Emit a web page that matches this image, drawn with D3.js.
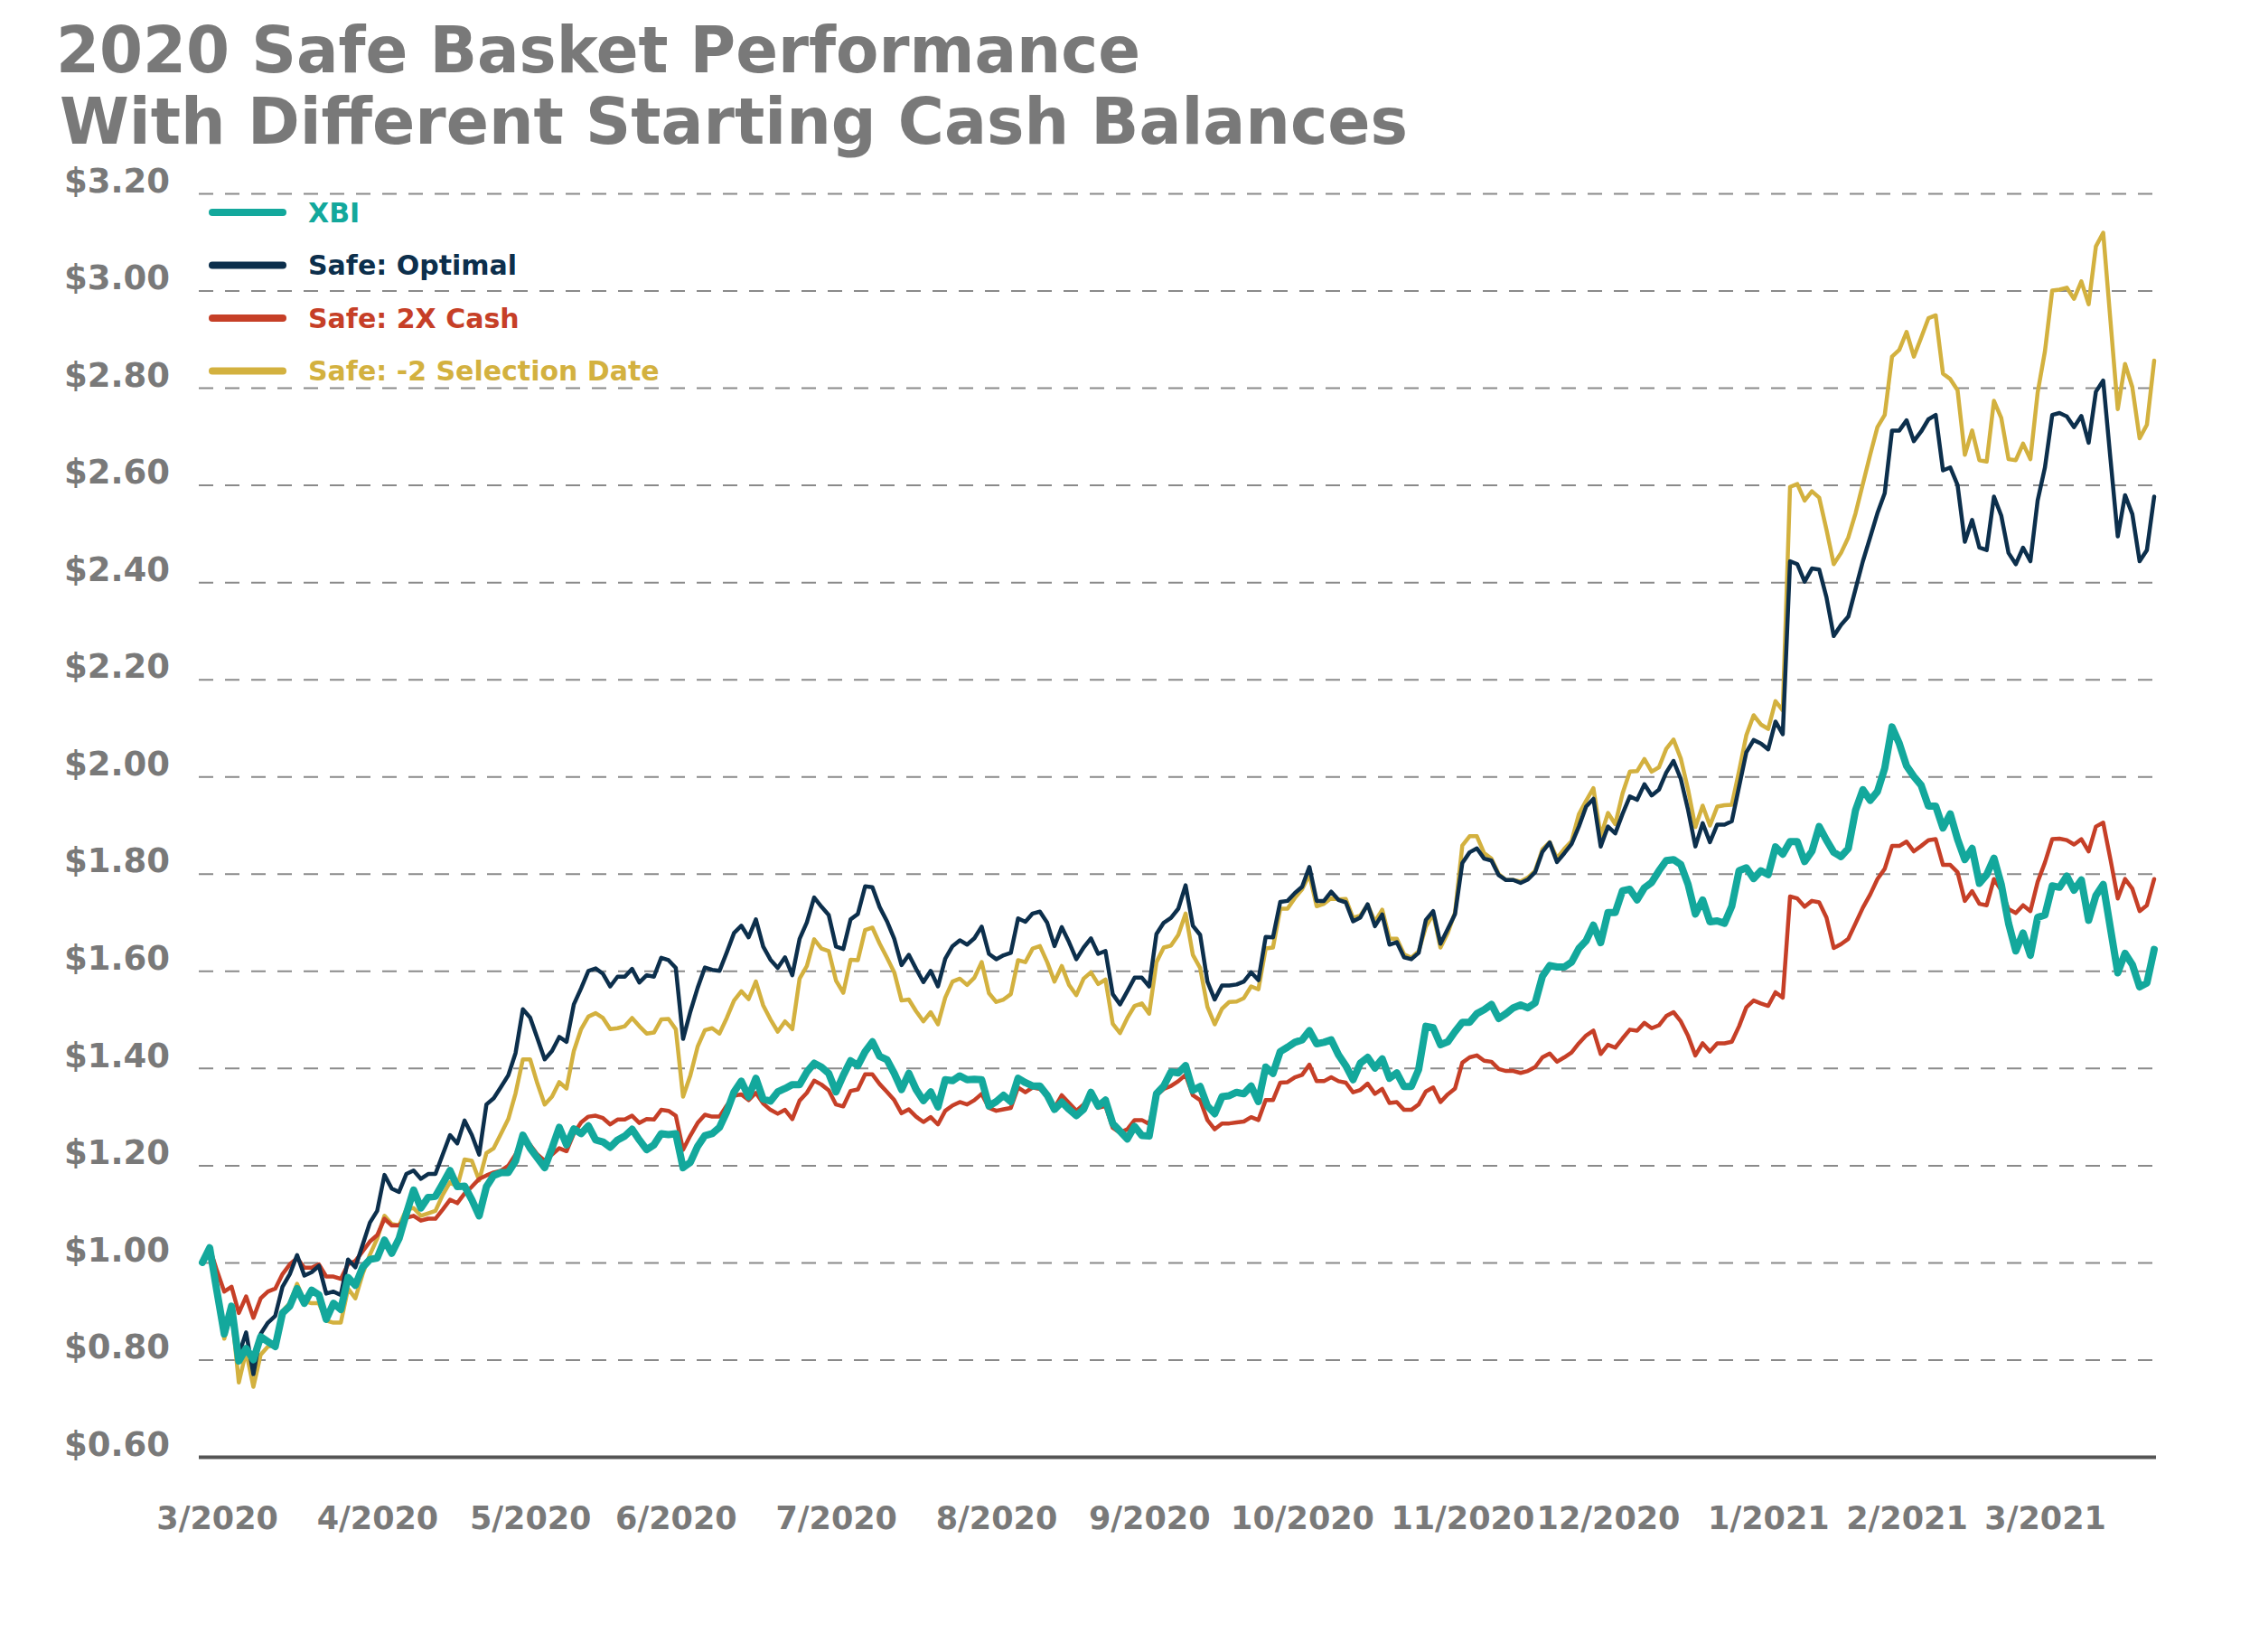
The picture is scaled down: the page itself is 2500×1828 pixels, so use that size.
<!DOCTYPE html>
<html>
<head>
<meta charset="utf-8">
<script src="https://cdn.jsdelivr.net/npm/d3@7"></script>
<style>
  body { margin: 0; background: #fff; }
  text { font-family: "DejaVu Sans", sans-serif; font-weight: bold; }
</style>
</head>
<body>
<div id="chart-area"></div>
<script>
// month labels and the trading-day index where each month starts
const monthLabels = ["3/2020", "4/2020", "5/2020", "6/2020", "7/2020", "8/2020", "9/2020",
    "10/2020", "11/2020", "12/2020", "1/2021", "2/2021", "3/2021"];
const monthStarts = [2, 24, 45, 65, 87, 109, 130, 151, 173, 193, 215, 234, 253];

const yTicks = [0.6, 0.8, 1.0, 1.2, 1.4, 1.6, 1.8, 2.0, 2.2, 2.4, 2.6, 2.8, 3.0, 3.2];

const seriesNames = ["XBI", "Safe: Optimal", "Safe: 2X Cash", "Safe: -2 Selection Date"];

// one value per trading day
const xbi = [
    1.00, 1.03, 0.94, 0.853, 0.91, 0.797, 0.823, 0.80, 0.847, 0.837,
    0.827, 0.896, 0.91, 0.946, 0.916, 0.943, 0.933, 0.883, 0.916, 0.903,
    0.969, 0.953, 0.99, 1.006, 1.009, 1.046, 1.019, 1.049, 1.10, 1.149,
    1.112, 1.134, 1.136, 1.162, 1.189, 1.156, 1.157, 1.129, 1.096, 1.156,
    1.179, 1.185, 1.185, 1.209, 1.262, 1.235, 1.215, 1.195, 1.235, 1.278,
    1.242, 1.275, 1.265, 1.281, 1.252, 1.248, 1.237, 1.252, 1.26, 1.274,
    1.252, 1.232, 1.242, 1.265, 1.263, 1.265, 1.195, 1.206, 1.239, 1.261,
    1.265, 1.278, 1.31, 1.351, 1.373, 1.341, 1.379, 1.336, 1.332, 1.351,
    1.358, 1.366, 1.366, 1.392, 1.41, 1.402, 1.389, 1.351, 1.385, 1.415,
    1.405, 1.434, 1.454, 1.424, 1.417, 1.389, 1.356, 1.389, 1.356, 1.333,
    1.351, 1.32, 1.376, 1.374, 1.384, 1.376, 1.377, 1.376, 1.322, 1.331,
    1.344, 1.331, 1.379, 1.37, 1.363, 1.363, 1.344, 1.315, 1.33, 1.315,
    1.302, 1.315, 1.35, 1.322, 1.334, 1.286, 1.27, 1.254, 1.28, 1.261,
    1.26, 1.347, 1.363, 1.392, 1.39, 1.405, 1.354, 1.362, 1.322, 1.306,
    1.341, 1.343, 1.35, 1.347, 1.363, 1.331, 1.402, 1.389, 1.434, 1.443,
    1.453, 1.458, 1.477, 1.45, 1.453, 1.458, 1.427, 1.405, 1.376, 1.41,
    1.422, 1.40, 1.419, 1.379, 1.39, 1.362, 1.362, 1.397, 1.486, 1.483,
    1.448, 1.454, 1.475, 1.494, 1.494, 1.512, 1.52, 1.531, 1.502, 1.512,
    1.524, 1.53, 1.524, 1.534, 1.589, 1.611, 1.608, 1.608, 1.618, 1.646,
    1.662, 1.694, 1.658, 1.72, 1.72, 1.765, 1.768, 1.746, 1.771, 1.782,
    1.806, 1.827, 1.829, 1.819, 1.778, 1.717, 1.746, 1.701, 1.703, 1.698,
    1.733, 1.806, 1.812, 1.79, 1.806, 1.798, 1.855, 1.84, 1.866, 1.866,
    1.825, 1.846, 1.897, 1.869, 1.844, 1.835, 1.852, 1.931, 1.973, 1.951,
    1.969, 2.017, 2.102, 2.068, 2.022, 2.0, 1.982, 1.939, 1.939, 1.894,
    1.923, 1.871, 1.829, 1.852, 1.78, 1.798, 1.832, 1.778, 1.698, 1.641,
    1.678, 1.632, 1.71, 1.715, 1.775, 1.772, 1.795, 1.766, 1.787, 1.704,
    1.755, 1.778, 1.687, 1.596, 1.636, 1.613, 1.567, 1.575, 1.644
];

const safeOptimal = [
    1.00, 1.03, 0.93, 0.85, 0.90, 0.81, 0.856, 0.77, 0.853, 0.876,
    0.89, 0.95, 0.976, 1.015, 0.973, 0.98, 0.993, 0.936, 0.94, 0.933,
    1.006, 0.99, 1.036, 1.082, 1.106, 1.18, 1.152, 1.145, 1.182, 1.189,
    1.172, 1.182, 1.182, 1.222, 1.262, 1.245, 1.292, 1.262, 1.222, 1.325,
    1.338, 1.361, 1.385, 1.431, 1.521, 1.504, 1.461, 1.418, 1.435, 1.464,
    1.454, 1.531, 1.564, 1.60, 1.605, 1.594, 1.568, 1.588, 1.588, 1.604,
    1.576, 1.591, 1.588, 1.627, 1.622, 1.606, 1.46, 1.516, 1.565, 1.607,
    1.602, 1.60, 1.638, 1.678, 1.693, 1.669, 1.706, 1.65, 1.623, 1.606,
    1.628, 1.591, 1.666, 1.70, 1.751, 1.732, 1.715, 1.65, 1.645, 1.706,
    1.717, 1.774, 1.772, 1.731, 1.702, 1.666, 1.612, 1.633, 1.604, 1.577,
    1.60, 1.568, 1.625, 1.651, 1.663, 1.654, 1.667, 1.691, 1.635, 1.624,
    1.632, 1.637, 1.708, 1.701, 1.718, 1.722, 1.699, 1.651, 1.69, 1.659,
    1.624, 1.648, 1.667, 1.635, 1.641, 1.552, 1.531, 1.558, 1.586, 1.586,
    1.568, 1.676, 1.699, 1.709, 1.728, 1.776, 1.693, 1.674, 1.578, 1.541,
    1.57, 1.57, 1.572, 1.578, 1.597, 1.581, 1.67, 1.669, 1.742, 1.744,
    1.76, 1.773, 1.814, 1.744, 1.744, 1.763, 1.746, 1.741, 1.702, 1.71,
    1.737, 1.692, 1.716, 1.654, 1.659, 1.628, 1.624, 1.637, 1.705, 1.723,
    1.656, 1.686, 1.717, 1.822, 1.844, 1.852, 1.831, 1.827, 1.797, 1.787,
    1.787, 1.781, 1.788, 1.803, 1.845, 1.864, 1.824, 1.842, 1.861, 1.897,
    1.938, 1.954, 1.856, 1.897, 1.883, 1.923, 1.959, 1.952, 1.984, 1.961,
    1.973, 2.008, 2.032, 1.995, 1.931, 1.856, 1.904, 1.865, 1.901, 1.901,
    1.908, 1.979, 2.05, 2.075, 2.068, 2.056, 2.113, 2.087, 2.443, 2.437,
    2.401, 2.428, 2.426, 2.369, 2.289, 2.312, 2.329, 2.386, 2.443, 2.492,
    2.542, 2.583, 2.712, 2.712, 2.733, 2.69, 2.71, 2.735, 2.744, 2.63,
    2.636, 2.60, 2.483, 2.528, 2.471, 2.466, 2.576, 2.537, 2.46, 2.437,
    2.471, 2.443, 2.568, 2.636, 2.744, 2.748, 2.741, 2.719, 2.742, 2.687,
    2.792, 2.815, 2.653, 2.494, 2.579, 2.54, 2.443, 2.466, 2.576
];

const safe2xCash = [
    1.00, 1.03, 0.983, 0.94, 0.95, 0.896, 0.93, 0.886, 0.926, 0.94,
    0.946, 0.976, 0.996, 1.009, 0.989, 0.989, 0.996, 0.971, 0.971, 0.966,
    0.996, 1.003, 1.023, 1.043, 1.056, 1.09, 1.076, 1.076, 1.092, 1.096,
    1.086, 1.09, 1.09, 1.109, 1.129, 1.122, 1.142, 1.156, 1.172, 1.179,
    1.185, 1.189, 1.199, 1.222, 1.258, 1.242, 1.222, 1.209, 1.222, 1.235,
    1.229, 1.265, 1.288, 1.30, 1.302, 1.297, 1.284, 1.294, 1.294, 1.302,
    1.287, 1.295, 1.294, 1.314, 1.312, 1.302, 1.232, 1.261, 1.287, 1.304,
    1.30, 1.30, 1.323, 1.343, 1.346, 1.334, 1.349, 1.327, 1.314, 1.306,
    1.314, 1.295, 1.333, 1.349, 1.374, 1.366, 1.354, 1.325, 1.321, 1.353,
    1.356, 1.387, 1.387, 1.367, 1.351, 1.334, 1.307, 1.315, 1.30, 1.289,
    1.299, 1.284, 1.312, 1.323, 1.33, 1.325, 1.334, 1.347, 1.318, 1.312,
    1.315, 1.318, 1.36, 1.35, 1.36, 1.357, 1.344, 1.318, 1.344, 1.328,
    1.312, 1.325, 1.347, 1.318, 1.322, 1.277, 1.267, 1.274, 1.293, 1.293,
    1.285, 1.344, 1.357, 1.363, 1.373, 1.386, 1.344, 1.334, 1.293, 1.274,
    1.286, 1.286, 1.288, 1.29, 1.299, 1.293, 1.334, 1.334, 1.37, 1.371,
    1.381, 1.386, 1.407, 1.373, 1.373, 1.381, 1.373, 1.37, 1.35, 1.355,
    1.368, 1.347, 1.357, 1.328, 1.33, 1.314, 1.314, 1.325, 1.352, 1.36,
    1.33, 1.346, 1.358, 1.411, 1.422, 1.426, 1.415, 1.413, 1.398, 1.394,
    1.394, 1.39, 1.394, 1.402, 1.422, 1.43, 1.413, 1.422, 1.432, 1.451,
    1.467, 1.477, 1.429, 1.448, 1.442, 1.461, 1.479, 1.477, 1.493, 1.482,
    1.488, 1.507, 1.515, 1.496, 1.466, 1.426, 1.451, 1.434, 1.451, 1.451,
    1.454, 1.486, 1.525, 1.539, 1.533, 1.528, 1.556, 1.545, 1.753, 1.749,
    1.732, 1.744, 1.741, 1.71, 1.647, 1.655, 1.666, 1.698, 1.73, 1.757,
    1.789, 1.81, 1.857, 1.857, 1.866, 1.846, 1.857, 1.869, 1.871, 1.818,
    1.818, 1.803, 1.744, 1.764, 1.738, 1.735, 1.789, 1.766, 1.727, 1.719,
    1.735, 1.723, 1.783, 1.823, 1.871, 1.872, 1.869, 1.86, 1.871, 1.846,
    1.897, 1.905, 1.829, 1.749, 1.789, 1.769, 1.723, 1.735, 1.789
];

const safeMinus2 = [
    1.00, 1.03, 0.93, 0.843, 0.90, 0.753, 0.817, 0.744, 0.81, 0.827,
    0.83, 0.90, 0.916, 0.956, 0.92, 0.916, 0.916, 0.88, 0.876, 0.876,
    0.946, 0.926, 0.976, 1.016, 1.049, 1.096, 1.079, 1.076, 1.109, 1.112,
    1.096, 1.101, 1.106, 1.139, 1.165, 1.156, 1.212, 1.209, 1.169, 1.225,
    1.235, 1.265, 1.295, 1.348, 1.418, 1.418, 1.368, 1.325, 1.341, 1.371,
    1.358, 1.435, 1.48, 1.506, 1.513, 1.503, 1.48, 1.482, 1.486, 1.503,
    1.486, 1.471, 1.473, 1.50, 1.501, 1.48, 1.341, 1.385, 1.444, 1.478,
    1.482, 1.471, 1.503, 1.539, 1.558, 1.542, 1.578, 1.529, 1.50, 1.475,
    1.496, 1.48, 1.584, 1.61, 1.665, 1.646, 1.641, 1.58, 1.555, 1.623,
    1.622, 1.684, 1.689, 1.656, 1.627, 1.597, 1.539, 1.541, 1.517, 1.496,
    1.515, 1.49, 1.545, 1.578, 1.584, 1.571, 1.586, 1.618, 1.554, 1.536,
    1.541, 1.552, 1.622, 1.618, 1.646, 1.651, 1.618, 1.578, 1.61, 1.571,
    1.55, 1.584, 1.597, 1.573, 1.582, 1.491, 1.472, 1.503, 1.528, 1.533,
    1.512, 1.618, 1.648, 1.652, 1.674, 1.718, 1.633, 1.606, 1.526, 1.49,
    1.522, 1.536, 1.537, 1.544, 1.568, 1.562, 1.646, 1.648, 1.728, 1.728,
    1.75, 1.768, 1.798, 1.733, 1.738, 1.75, 1.747, 1.748, 1.709, 1.714,
    1.736, 1.701, 1.726, 1.666, 1.666, 1.634, 1.627, 1.64, 1.691, 1.717,
    1.648, 1.678, 1.72, 1.858, 1.877, 1.877, 1.842, 1.831, 1.799, 1.787,
    1.787, 1.784, 1.792, 1.806, 1.85, 1.865, 1.832, 1.851, 1.867, 1.922,
    1.95, 1.976, 1.877, 1.925, 1.902, 1.965, 2.01, 2.011, 2.036, 2.01,
    2.019, 2.057, 2.076, 2.037, 1.973, 1.896, 1.94, 1.899, 1.938, 1.941,
    1.942, 2.011, 2.085, 2.126, 2.107, 2.098, 2.155, 2.136, 2.596, 2.602,
    2.568, 2.587, 2.574, 2.508, 2.437, 2.46, 2.492, 2.542, 2.602, 2.662,
    2.719, 2.744, 2.864, 2.878, 2.915, 2.864, 2.903, 2.943, 2.949, 2.829,
    2.818, 2.795, 2.662, 2.712, 2.651, 2.648, 2.773, 2.738, 2.653, 2.651,
    2.685, 2.653, 2.79, 2.875, 3.0, 3.002, 3.006, 2.983, 3.019, 2.972,
    3.091, 3.119, 2.937, 2.756, 2.849, 2.801, 2.696, 2.724, 2.856
];

const chartSize = {width: 2500, height: 1828};
const plot = {left: 220, right: 2386, top: 214, bottom: 1612};

const colors = {
    "XBI": "#13a89c",
    "Safe: Optimal": "#0c2f4c",
    "Safe: 2X Cash": "#c63f27",
    "Safe: -2 Selection Date": "#d3b13f"
};
const grey = "#797979";

const drawChart = () => {
    const series = [
        {name: "Safe: -2 Selection Date", values: safeMinus2, width: 4.5},
        {name: "Safe: 2X Cash", values: safe2xCash, width: 4.5},
        {name: "Safe: Optimal", values: safeOptimal, width: 4.5},
        {name: "XBI", values: xbi, width: 8}
    ];

    const x = d3.scaleLinear()
        .domain([0, xbi.length - 1])
        .range([224, 2384]);

    const y = d3.scaleLinear()
        .domain([0.6, 3.2])
        .range([plot.bottom, plot.top]);

    const svg = d3.select("#chart-area")
        .append("svg")
        .attr("width", chartSize.width)
        .attr("height", chartSize.height);

    svg.append("rect")
        .attr("width", chartSize.width)
        .attr("height", chartSize.height)
        .attr("fill", "#fff");

    // title
    const title = svg.append("g").attr("fill", grey);
    title.append("text")
        .attr("x", 62).attr("y", 80)
        .attr("font-size", 71)
        .attr("textLength", 1200)
        .attr("lengthAdjust", "spacingAndGlyphs")
        .text("2020 Safe Basket Performance");
    title.append("text")
        .attr("x", 66).attr("y", 159)
        .attr("font-size", 71)
        .attr("textLength", 1492)
        .attr("lengthAdjust", "spacingAndGlyphs")
        .text("With Different Starting Cash Balances");

    // y axis: labels + dashed grid
    const yAxis = d3.axisLeft(y)
        .tickValues(yTicks)
        .tickFormat(d => "$" + d3.format(".2f")(d))
        .tickSize(-(plot.right - plot.left))
        .tickPadding(32);

    const yG = svg.append("g")
        .attr("transform", `translate(${plot.left}, 0)`)
        .call(yAxis);
    yG.select(".domain").remove();
    yG.selectAll(".tick line")
        .attr("stroke", "#8a8a8a")
        .attr("stroke-width", 2)
        .attr("stroke-dasharray", d => d === 0.6 ? null : "16,13")
        .filter(d => d === 0.6)
        .attr("stroke", "#555")
        .attr("stroke-width", 4);
    yG.selectAll(".tick text")
        .attr("fill", grey)
        .attr("font-size", 37)
        .attr("font-family", "DejaVu Sans, sans-serif")
        .attr("font-weight", "bold")
        .attr("dy", "-0.05em");

    // x axis labels at month starts
    const xAxis = d3.axisBottom(x)
        .tickValues(monthStarts)
        .tickFormat((d, i) => monthLabels[i])
        .tickSize(0)
        .tickPadding(0);

    const xG = svg.append("g")
        .attr("transform", `translate(0, ${plot.bottom})`)
        .call(xAxis);
    xG.select(".domain").remove();
    xG.selectAll(".tick text")
        .attr("fill", grey)
        .attr("font-size", 35)
        .attr("font-family", "DejaVu Sans, sans-serif")
        .attr("font-weight", "bold")
        .attr("y", 80)
        .attr("dy", 0);

    // lines
    const line = d3.line()
        .x((d, i) => x(i))
        .y(d => y(d));

    svg.append("g").selectAll("path")
        .data(series)
        .enter()
        .append("path")
        .attr("d", s => line(s.values))
        .attr("fill", "none")
        .attr("stroke", s => colors[s.name])
        .attr("stroke-width", s => s.width)
        .attr("stroke-linejoin", "round")
        .attr("stroke-linecap", "round");

    // legend
    const legend = svg.append("g");
    const rows = legend.selectAll("g")
        .data(seriesNames)
        .enter()
        .append("g")
        .attr("transform", (d, i) => `translate(235, ${235 + i * 58.5})`);
    rows.append("line")
        .attr("x1", 0).attr("x2", 78)
        .attr("stroke", d => colors[d])
        .attr("stroke-width", 8)
        .attr("stroke-linecap", "round");
    rows.append("text")
        .attr("x", 106)
        .attr("dy", "0.36em")
        .attr("font-size", 30)
        .attr("fill", d => colors[d])
        .text(d => d);
};

window.onload = drawChart;
</script>
</body>
</html>
